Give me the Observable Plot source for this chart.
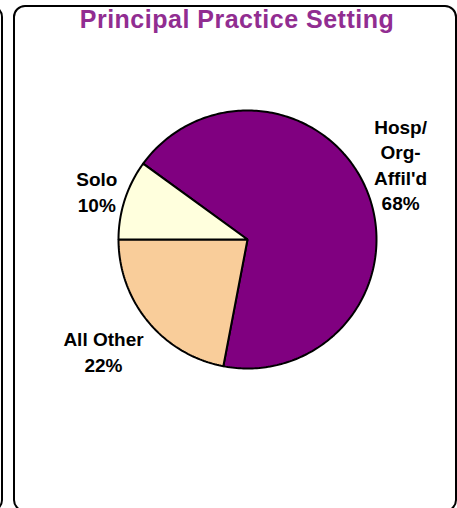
<!DOCTYPE html>
<html><head><meta charset="utf-8">
<script src="https://cdn.jsdelivr.net/npm/d3@7"></script>
<script src="https://cdn.jsdelivr.net/npm/@observablehq/plot@0.6"></script>
<style>
html,body{margin:0;padding:0;background:#fff;overflow:hidden;}
#wrap{position:relative;width:457px;height:508px;overflow:hidden;font-family:"Liberation Sans",Arial,sans-serif;}
.frame{position:absolute;border:2px solid #000;border-radius:12px;box-sizing:border-box;}
#title{position:absolute;left:16px;width:442px;top:7px;text-align:center;font-weight:bold;font-size:25px;line-height:25px;letter-spacing:0.5px;color:#912D91;white-space:nowrap;}
#chart{position:absolute;left:0;top:0;}
</style></head><body>
<div id="wrap">
<div id="chart"></div>
<div class="frame" style="left:-300px;top:5px;width:303px;height:507px"></div>
<div class="frame" style="left:13px;top:5px;width:444px;height:507px"></div>
<div id="title"></div>
</div>
<script>
const title = "Principal Practice Setting";
const categories = ["Hosp/\nOrg-\nAffil'd", "All Other", "Solo"];
const values = [68, 22, 10];
const colors = ["#800080", "#F9CD9A", "#FFFFDD"];

document.getElementById("title").textContent = title;

const startAngle = -54 * Math.PI / 180;
const arcs = d3.pie().sort(null).startAngle(startAngle).endAngle(startAngle + 2 * Math.PI)(values)
  .map((a, i) => ({...a, category: categories[i], color: colors[i]}));

// polygon vertices for each slice on the unit circle
const slices = arcs.map(a => {
  const pts = [{x: 0, y: 0}];
  const n = Math.max(2, Math.ceil((a.endAngle - a.startAngle) / (Math.PI / 180)));
  for (let k = 0; k <= n; ++k) {
    const t = a.startAngle + (a.endAngle - a.startAngle) * k / n;
    pts.push({x: Math.sin(t), y: Math.cos(t)});
  }
  return {arc: a, pts};
});

const labelR = 1.318;
const offsets = [[-5, -13], [-13, 3], [11, 4]];

const marks = [];
slices.forEach(s => {
  marks.push(Plot.line(s.pts, {x: "x", y: "y", fill: s.arc.color, stroke: "#000", strokeWidth: 2, curve: "linear-closed", strokeLinejoin: "miter"}));
});
arcs.forEach((a, i) => {
  const mid = (a.startAngle + a.endAngle) / 2;
  marks.push(Plot.text([a], {
    x: d => labelR * Math.sin(mid),
    y: d => labelR * Math.cos(mid),
    text: d => `${d.category}\n${d.value}%`,
    dx: offsets[i][0], dy: offsets[i][1],
    fontSize: 19, fontWeight: "bold", fill: "#000",
    lineHeight: 1.33, fontFamily: "Liberation Sans, Arial, sans-serif"
  }));
});

const chart = Plot.plot({
  width: 457, height: 508,
  margin: 0,
  x: {domain: [-247 / 129, 210 / 129], axis: null},
  y: {domain: [-269 / 129, 239 / 129], axis: null},
  style: {background: "transparent"},
  marks
});
document.getElementById("chart").append(chart);
</script>
</body></html>
